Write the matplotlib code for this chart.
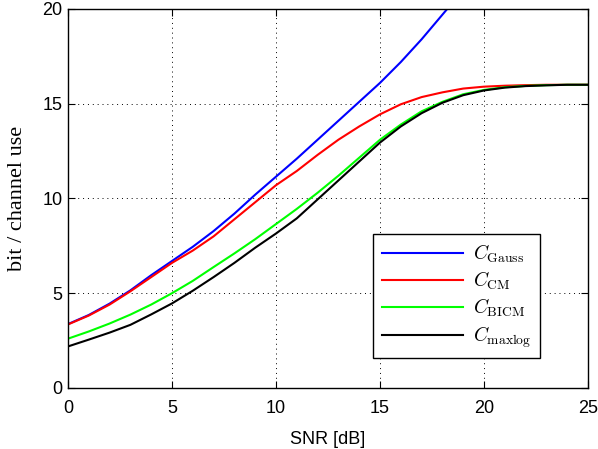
import numpy as np
import matplotlib
matplotlib.use("Agg")
import matplotlib.pyplot as plt

plt.rcParams['mathtext.fontset'] = 'cm'

# SNR grid in dB
snr = np.arange(0, 26)

# capacities (bit / channel use)
c_gauss = [3.37, 3.85, 4.45, 5.15, 5.95, 6.7, 7.45, 8.28, 9.2, 10.2, 11.15,
           12.1, 13.1, 14.1, 15.1, 16.1, 17.2, 18.4, 19.7, 21.0, 22.3]
c_cm = [3.35, 3.82, 4.4, 5.1, 5.85, 6.6, 7.25, 8.0, 8.9, 9.8, 10.7, 11.45, 12.3,
        13.1, 13.8, 14.44, 14.97, 15.35, 15.6, 15.8, 15.9, 15.95, 15.98, 16.0,
        16.0, 16.0]
c_bicm = [2.6, 2.98, 3.4, 3.87, 4.4, 5.0, 5.65, 6.38, 7.1, 7.85, 8.65, 9.45,
          10.3, 11.2, 12.15, 13.1, 13.9, 14.6, 15.1, 15.5, 15.73, 15.87, 15.94,
          15.98, 16.0, 16.0]
c_maxlog = [2.19, 2.55, 2.92, 3.33, 3.88, 4.46, 5.13, 5.85, 6.6, 7.4, 8.15,
            8.95, 9.95, 10.95, 11.95, 12.95, 13.8, 14.5, 15.05, 15.45, 15.7,
            15.85, 15.93, 15.97, 16.0, 16.0]

labels = [r'$C_{\mathrm{Gauss}}$', r'$C_{\mathrm{CM}}$',
          r'$C_{\mathrm{BICM}}$', r'$C_{\mathrm{maxlog}}$']

fig = plt.figure(figsize=(5.98, 4.49), dpi=100)
ax = fig.add_axes([0.1137, 0.136, 0.8696, 0.844])

ax.plot(snr[:len(c_gauss)], c_gauss, color=(0, 0, 1), lw=1.5, label=labels[0])
ax.plot(snr, c_cm, color=(1, 0, 0), lw=1.5, label=labels[1])
ax.plot(snr, c_bicm, color=(0, 1, 0), lw=1.5, label=labels[2])
ax.plot(snr, c_maxlog, color='k', lw=1.5, label=labels[3])

ax.set_xlim(0, 25)
ax.set_ylim(0, 20)
ax.set_xticks(np.arange(0, 26, 5))
ax.set_yticks(np.arange(0, 21, 5))
ax.grid(True, color='k', linestyle=(0, (1, 4)), linewidth=0.7)
ax.tick_params(direction='in', top=True, right=True, length=5, labelsize=13)
ax.tick_params(axis='x', pad=9)
ax.tick_params(axis='y', pad=4)
for lbl in ax.get_xticklabels() + ax.get_yticklabels():
    lbl.set_family('Liberation Sans')
for s in ax.spines.values():
    s.set_linewidth(1.0)

ax.set_xlabel('SNR [dB]', family='Liberation Sans', fontsize=13, labelpad=10)
ax.set_ylabel('bit / channel use', family='Liberation Serif', fontsize=16,
              labelpad=11)

leg = ax.legend(loc='lower right', bbox_to_anchor=(0.908, 0.078), fontsize=14,
                handlelength=4.2, fancybox=False, edgecolor='k',
                framealpha=1, borderpad=0.45, labelspacing=0.25,
                handletextpad=0.5, borderaxespad=0)
leg.get_frame().set_linewidth(1.0)

fig.savefig('out.png', dpi=100)
